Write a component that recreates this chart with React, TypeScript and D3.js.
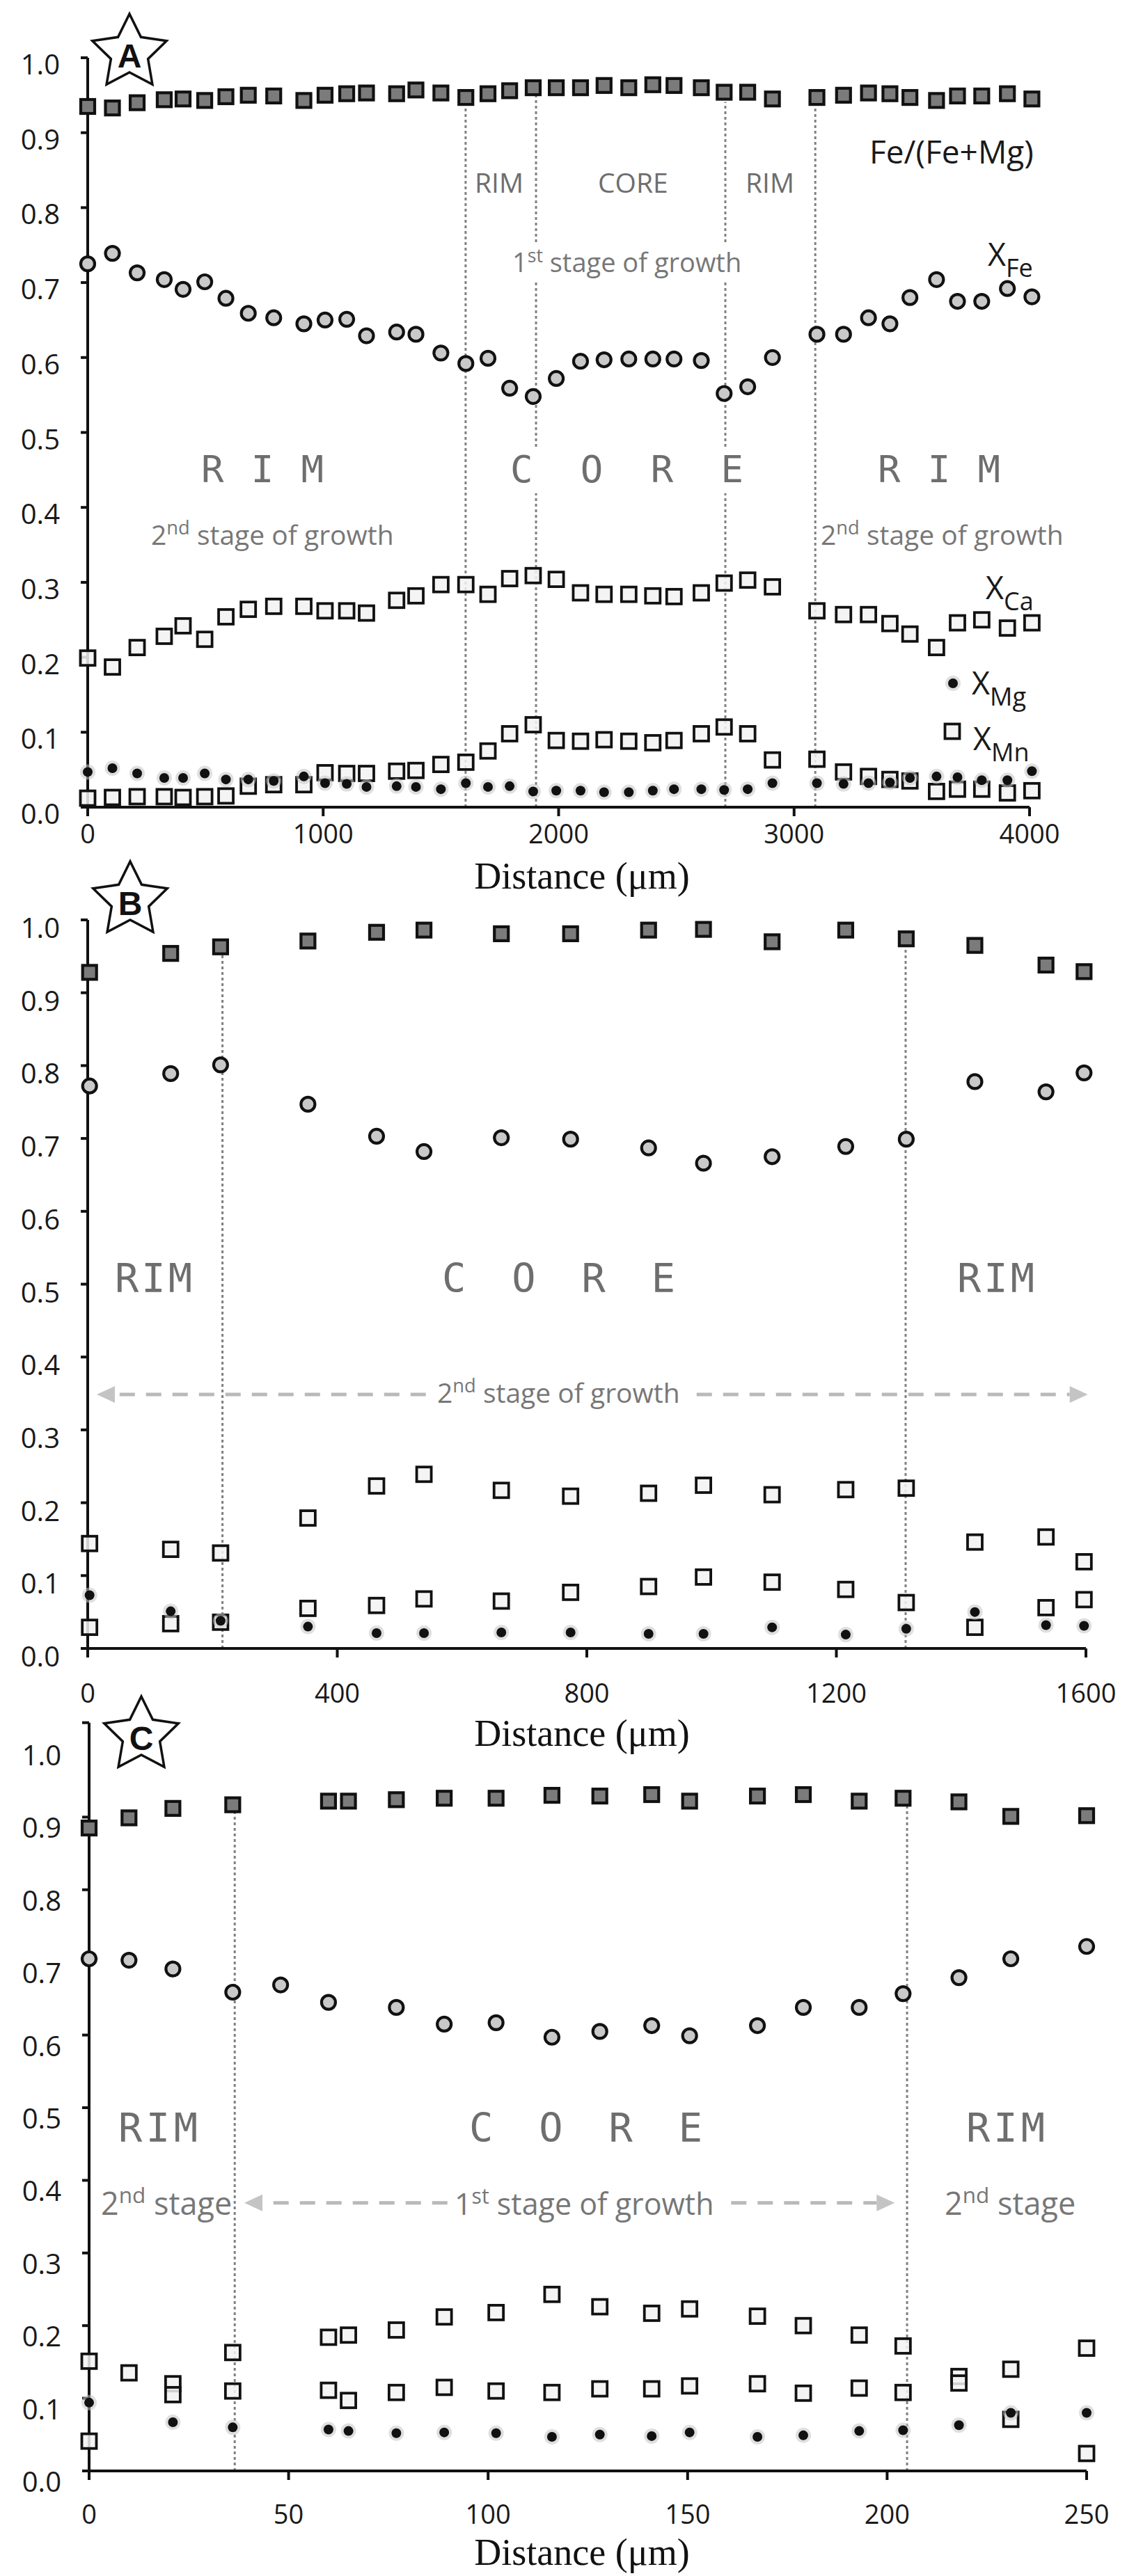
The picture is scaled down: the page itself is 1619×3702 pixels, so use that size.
import React, { useEffect } from "react";
import * as d3 from "d3";

// ---------------- DATA ----------------
// Panel A
const distanceA = [0, 105, 210, 325, 405, 497, 587, 682, 790, 918, 1008, 1100, 1184, 1312, 1394, 1500, 1606, 1700, 1792, 1892, 1990, 2093, 2193, 2298, 2400, 2490, 2606, 2703, 2803, 2908, 3097, 3210, 3316, 3407, 3492, 3605, 3694, 3797, 3906, 4010];
const feMgA = [0.935, 0.933, 0.94, 0.944, 0.945, 0.943, 0.948, 0.95, 0.949, 0.943, 0.95, 0.952, 0.953, 0.952, 0.957, 0.953, 0.947, 0.952, 0.956, 0.96, 0.96, 0.96, 0.963, 0.96, 0.964, 0.963, 0.96, 0.954, 0.954, 0.945, 0.947, 0.95, 0.953, 0.952, 0.947, 0.943, 0.949, 0.949, 0.952, 0.945];
const xFeA = [0.725, 0.739, 0.713, 0.704, 0.691, 0.701, 0.679, 0.659, 0.653, 0.645, 0.65, 0.651, 0.629, 0.634, 0.631, 0.606, 0.592, 0.599, 0.559, 0.548, 0.572, 0.595, 0.597, 0.598, 0.598, 0.598, 0.596, 0.552, 0.561, 0.6, 0.631, 0.631, 0.653, 0.645, 0.68, 0.704, 0.675, 0.675, 0.692, 0.681];
const xCaA = [0.199, 0.187, 0.213, 0.228, 0.242, 0.224, 0.254, 0.264, 0.268, 0.268, 0.262, 0.262, 0.259, 0.276, 0.282, 0.297, 0.297, 0.284, 0.305, 0.309, 0.304, 0.286, 0.284, 0.284, 0.282, 0.281, 0.286, 0.299, 0.303, 0.294, 0.262, 0.257, 0.257, 0.245, 0.231, 0.213, 0.246, 0.25, 0.239, 0.246];
const xMgA = [0.047, 0.052, 0.045, 0.039, 0.039, 0.045, 0.037, 0.037, 0.035, 0.041, 0.032, 0.031, 0.027, 0.028, 0.027, 0.024, 0.032, 0.027, 0.028, 0.021, 0.022, 0.022, 0.02, 0.02, 0.022, 0.024, 0.024, 0.023, 0.024, 0.032, 0.032, 0.031, 0.032, 0.033, 0.039, 0.041, 0.04, 0.036, 0.036, 0.048];
const xMnA = [0.012, 0.013, 0.014, 0.014, 0.013, 0.014, 0.015, 0.028, 0.03, 0.03, 0.046, 0.045, 0.045, 0.048, 0.049, 0.057, 0.06, 0.075, 0.098, 0.11, 0.089, 0.088, 0.09, 0.088, 0.086, 0.089, 0.098, 0.107, 0.098, 0.063, 0.064, 0.047, 0.041, 0.037, 0.035, 0.021, 0.024, 0.024, 0.019, 0.022];

// Panel B
const distanceB = [3, 133, 213, 353, 463, 539, 663, 774, 899, 987, 1097, 1215, 1312, 1422, 1536, 1597];
const feMgB = [0.928, 0.954, 0.963, 0.971, 0.983, 0.986, 0.981, 0.981, 0.986, 0.987, 0.97, 0.986, 0.974, 0.965, 0.938, 0.929];
const xFeB = [0.772, 0.789, 0.801, 0.747, 0.703, 0.682, 0.701, 0.699, 0.687, 0.666, 0.675, 0.689, 0.699, 0.778, 0.764, 0.79];
const xCaB = [0.144, 0.136, 0.131, 0.179, 0.223, 0.239, 0.217, 0.209, 0.213, 0.224, 0.211, 0.218, 0.22, 0.146, 0.153, 0.119];
const xMgB = [0.073, 0.051, 0.038, 0.03, 0.021, 0.021, 0.022, 0.022, 0.02, 0.02, 0.029, 0.019, 0.027, 0.05, 0.032, 0.031];
const xMnB = [0.029, 0.034, 0.036, 0.055, 0.059, 0.068, 0.065, 0.077, 0.085, 0.098, 0.091, 0.081, 0.063, 0.029, 0.056, 0.067];

// Panel C
const distanceC = [0, 10, 21, 36, 48, 60, 65, 77, 89, 102, 116, 128, 141, 150.5, 167.5, 179, 193, 204, 218, 231, 250];
const feMgC = [0.885, 0.899, 0.912, 0.917, null, 0.922, 0.922, 0.924, 0.926, 0.926, 0.93, 0.929, 0.931, 0.922, 0.929, 0.931, 0.922, 0.926, 0.921, 0.901, 0.902];
const xFeC = [0.705, 0.703, 0.691, 0.659, 0.669, 0.645, null, 0.638, 0.615, 0.617, 0.597, 0.605, 0.613, 0.599, 0.613, 0.638, 0.638, 0.657, 0.679, 0.705, 0.722];
const xCaC = [0.151, 0.135, 0.12, 0.163, null, 0.184, 0.187, 0.194, 0.212, 0.218, 0.243, 0.226, 0.217, 0.223, 0.213, 0.2, 0.187, 0.172, 0.13, 0.14, 0.169];
const xMnC = [0.041, null, 0.105, 0.11, null, 0.111, 0.097, 0.108, 0.115, 0.11, 0.108, 0.113, 0.113, 0.117, 0.12, 0.107, 0.114, 0.108, 0.121, 0.071, 0.024];
const xMgC = [0.094, null, 0.067, 0.06, null, 0.057, 0.055, 0.052, 0.053, 0.052, 0.047, 0.05, 0.048, 0.053, 0.047, 0.049, 0.055, 0.056, 0.063, 0.08, 0.08];

// Tick labels
const xTicksA = [0, 1000, 2000, 3000, 4000];
const xTicksB = [0, 400, 800, 1200, 1600];
const xTicksC = [0, 50, 100, 150, 200, 250];
const yTicks = [0, 0.1, 0.2, 0.3, 0.4, 0.5, 0.6, 0.7, 0.8, 0.9, 1.0];

// Zone boundaries (distance, segments in composition units)
const boundsA = [
  { d: 1605, segs: [[0, 0.938]] },
  { d: 1904, segs: [[0, 0.419], [0.481, 0.703], [0.754, 0.952]] },
  { d: 2708, segs: [[0, 0.419], [0.481, 0.703], [0.754, 0.941]] },
  { d: 3090, segs: [[0, 0.934]] },
];
const boundsB = [
  { d: 216, segs: [[0, 0.953]] },
  { d: 1311, segs: [[0, 0.963]] },
];
const boundsC = [
  { d: 36.5, segs: [[0, 0.907]] },
  { d: 205, segs: [[0, 0.917]] },
];

// ---------------- STYLE / LAYOUT ----------------
const SANS = "'Open Sans', 'Noto Sans', sans-serif";
const SERIF = "'Liberation Serif', 'DejaVu Serif', serif";
const MONO = "'DejaVu Sans Mono', 'Liberation Mono', monospace";
const GRAY_TXT = "#6e6e6e";

const panels = [
  {
    id: "A",
    dist: distanceA, feMg: feMgA, xFe: xFeA, xCa: xCaA, xMg: xMgA, xMn: xMnA,
    xDomain: [0, 4000], xRange: [126, 1479], y0: 1160, y1: 83, yTop: 1.0,
    xTicks: xTicksA, yLabelDy: 24, xLabelY: 1212, titleY: 1277,
    star: { cx: 186, cy: 76 }, bounds: boundsA, arrows: [],
    big: [
      { t: "RIM", x: 289, w: 176, y: 693, s: 54 },
      { t: "CORE", x: 733, w: 335, y: 693, s: 54 },
      { t: "RIM", x: 1261, w: 176, y: 693, s: 54 },
    ],
  },
  {
    id: "B",
    dist: distanceB, feMg: feMgB, xFe: xFeB, xCa: xCaB, xMg: xMgB, xMn: xMnB,
    xDomain: [0, 1600], xRange: [126, 1560], y0: 2369, y1: 1322, yTop: 1.0,
    xTicks: xTicksB, yLabelDy: 26, xLabelY: 2447, titleY: 2509,
    star: { cx: 187, cy: 1294 }, bounds: boundsB,
    arrows: [
      { v: 0.3486, from: 542, to: 14.5 },
      { v: 0.3486, from: 976, to: 1603 },
    ],
    big: [
      { t: "RIM", x: 165, w: 111, y: 1857, s: 57 },
      { t: "CORE", x: 635, w: 335, y: 1857, s: 57 },
      { t: "RIM", x: 1375, w: 111, y: 1857, s: 57 },
    ],
  },
  {
    id: "C",
    dist: distanceC, feMg: feMgC, xFe: xFeC, xCa: xCaC, xMg: xMgC, xMn: xMnC,
    xDomain: [0, 250], xRange: [128, 1561], y0: 3551, y1: 2507, yTop: 1.03,
    xTicks: xTicksC, yLabelDy: 30, xLabelY: 3627, titleY: 3686,
    star: { cx: 203, cy: 2494 }, bounds: boundsC,
    arrows: [
      { v: 0.369, from: 89.8, to: 38.9 },
      { v: 0.369, from: 160.9, to: 201.9 },
    ],
    big: [
      { t: "RIM", x: 170, w: 114, y: 3078, s: 57 },
      { t: "CORE", x: 674, w: 335, y: 3078, s: 57 },
      { t: "RIM", x: 1388, w: 113, y: 3078, s: 57 },
    ],
  },
];

// ---------------- COMPONENTS ----------------
function Star({ cx, cy, letter }: { cx: number; cy: number; letter: string }) {
  const r = 56;
  const pts = d3.range(10).map((i) => {
    const a = -Math.PI / 2 + (i * Math.PI) / 5;
    const rr = i % 2 === 0 ? r : r * 0.5;
    return [cx + rr * Math.cos(a), cy + rr * Math.sin(a)];
  });
  return (
    <g>
      <polygon points={pts.map((p) => p.join(",")).join(" ")} fill="#fff" stroke="#111" strokeWidth={3.5} />
      <text x={cx} y={cy + 21} textAnchor="middle" fontFamily="'Liberation Sans', Arial, sans-serif" fontWeight="bold" fontSize={48} fill="#111">
        {letter}
      </text>
    </g>
  );
}

function SqFilled({ x, y }: { x: number; y: number }) {
  const s = 20;
  return <rect x={x - s / 2} y={y - s / 2} width={s} height={s} fill="#7b7b7b" stroke="#111" strokeWidth={4.2} />;
}
function SqOpen({ x, y }: { x: number; y: number }) {
  const s = 21;
  return <rect x={x - s / 2} y={y - s / 2} width={s} height={s} fill="#f2f2f2" fillOpacity={0.85} stroke="#111" strokeWidth={3.8} />;
}
function Circ({ x, y }: { x: number; y: number }) {
  return <circle cx={x} cy={y} r={10} fill="#c9c9c9" stroke="#111" strokeWidth={4.2} />;
}
function Dot({ x, y }: { x: number; y: number }) {
  return (
    <g>
      <circle cx={x} cy={y} r={11} fill="#c4c4c4" opacity={0.55} />
      <circle cx={x} cy={y} r={7} fill="#111" />
    </g>
  );
}

function Stage({ x, y, size, n, sup, rest }: { x: number; y: number; size: number; n: string; sup: string; rest: string }) {
  return (
    <text x={x} y={y} fontFamily={SANS} fontSize={size} fill="#777">
      {n}
      <tspan fontSize={size * 0.7} dy={-size * 0.38}>{sup}</tspan>
      <tspan dy={size * 0.38}>{rest}</tspan>
    </text>
  );
}

function XLab({ x, y, sub, size = 45 }: { x: number; y: number; sub: string; size?: number }) {
  return (
    <text x={x} y={y} fontFamily={SANS} fontSize={size} fill="#1a1a1a">
      X<tspan fontSize={size * 0.8} dy={16}>{sub}</tspan>
    </text>
  );
}

function Panel({ p }: { p: any }) {
  const x = d3.scaleLinear().domain(p.xDomain).range(p.xRange);
  const y = d3.scaleLinear().domain([0, 1]).range([p.y0, p.y1]);
  const pts = (vals: (number | null)[]) =>
    p.dist.map((d: number, i: number) => ({ d, v: vals[i] })).filter((o: any) => o.v !== null && o.v !== undefined);
  const fmt = d3.format(".1f");
  const ax = x(0);
  const tickMarks = p.id === "C" ? yTicks.filter((t) => t < 0.95).concat([p.yTop]) : yTicks;

  return (
    <g>
      {/* zone boundaries */}
      {p.bounds.map((b: any, i: number) =>
        b.segs.map((s: number[], j: number) => (
          <line key={`b${i}-${j}`} x1={x(b.d)} x2={x(b.d)} y1={y(s[0])} y2={y(s[1])} stroke="#808080" strokeWidth={3} strokeDasharray="4 4" />
        ))
      )}
      {/* dashed arrows */}
      {p.arrows.map((a: any, i: number) => {
        const yy = y(a.v);
        const x1 = x(a.from);
        const x2 = x(a.to);
        const dir = Math.sign(x2 - x1);
        const L = 26;
        return (
          <g key={`a${i}`}>
            <line x1={x1} x2={x2 - dir * L} y1={yy} y2={yy} stroke="#b9b9b9" strokeWidth={5} strokeDasharray="22 16" />
            <polygon points={`${x2},${yy} ${x2 - dir * L},${yy - 12} ${x2 - dir * L},${yy + 12}`} fill="#c4c4c4" />
          </g>
        );
      })}

      {/* big zone labels */}
      {p.big.map((b: any, i: number) => (
        <text key={`z${i}`} x={b.x} y={b.y} fontFamily={MONO} fontSize={b.s} fill={GRAY_TXT} textLength={b.w} lengthAdjust="spacing">
          {b.t}
        </text>
      ))}

      {/* axes */}
      <line x1={ax} x2={ax} y1={y(p.yTop)} y2={y(0) + 8} stroke="#111" strokeWidth={4} />
      <line x1={ax - 10} x2={x(p.xDomain[1])} y1={y(0)} y2={y(0)} stroke="#111" strokeWidth={4} />
      {tickMarks.map((t: number) => (
        <line key={`yt${t}`} x1={ax - 10} x2={ax} y1={y(t)} y2={y(t)} stroke="#111" strokeWidth={4} />
      ))}
      {yTicks.map((t) => (
        <text key={`yl${t}`} x={ax - 40} y={y(t) + p.yLabelDy} textAnchor="end" fontFamily={SANS} fontSize={40} fill="#1a1a1a">
          {fmt(t)}
        </text>
      ))}
      {p.xTicks.map((t: number) => (
        <g key={`xt${t}`}>
          <line x1={x(t)} x2={x(t)} y1={y(0)} y2={y(0) + 13} stroke="#111" strokeWidth={4} />
          <text x={x(t)} y={p.xLabelY} textAnchor="middle" fontFamily={SANS} fontSize={38} fill="#1a1a1a">
            {t}
          </text>
        </g>
      ))}
      <text x={836} y={p.titleY} textAnchor="middle" fontFamily={SERIF} fontSize={54} fill="#111">
        Distance (μm)
      </text>

      {/* markers */}
      {pts(p.xCa).map((o: any, i: number) => <SqOpen key={`ca${i}`} x={x(o.d)} y={y(o.v)} />)}
      {pts(p.xMn).map((o: any, i: number) => <SqOpen key={`mn${i}`} x={x(o.d)} y={y(o.v)} />)}
      {pts(p.xMg).map((o: any, i: number) => <Dot key={`mg${i}`} x={x(o.d)} y={y(o.v)} />)}
      {pts(p.xFe).map((o: any, i: number) => <Circ key={`fe${i}`} x={x(o.d)} y={y(o.v)} />)}
      {pts(p.feMg).map((o: any, i: number) => <SqFilled key={`fm${i}`} x={x(o.d)} y={y(o.v)} />)}

      <Star cx={p.star.cx} cy={p.star.cy} letter={p.id} />
    </g>
  );
}

export default function App() {
  useEffect(() => {
    document.body.style.margin = "0";
  }, []);
  return (
    <svg width={1619} height={3702} style={{ display: "block", position: "absolute", left: 0, top: 0 }} xmlns="http://www.w3.org/2000/svg">
      <rect x={0} y={0} width={1619} height={3702} fill="#fff" />
      {panels.map((p) => (
        <Panel key={p.id} p={p} />
      ))}

      {/* Panel A annotations */}
      <text x={1249} y={235} fontFamily={SANS} fontSize={46} fill="#1a1a1a">Fe/(Fe+Mg)</text>
      <text x={682} y={277} fontFamily={SANS} fontSize={39} fill={GRAY_TXT}>RIM</text>
      <text x={859} y={277} fontFamily={SANS} fontSize={39} fill={GRAY_TXT}>CORE</text>
      <text x={1071} y={277} fontFamily={SANS} fontSize={39} fill={GRAY_TXT}>RIM</text>
      <Stage x={736} y={391} size={38} n="1" sup="st" rest=" stage of growth" />
      <Stage x={217} y={783} size={39} n="2" sup="nd" rest=" stage of growth" />
      <Stage x={1179} y={783} size={39} n="2" sup="nd" rest=" stage of growth" />
      <XLab x={1419} y={382} sub="Fe" />
      <XLab x={1416} y={861} sub="Ca" />
      <Dot x={1369} y={982} />
      <XLab x={1396} y={998} sub="Mg" />
      <SqOpen x={1368} y={1051} />
      <XLab x={1398} y={1078} sub="Mn" />

      {/* Panel B annotations */}
      <Stage x={628} y={2016} size={39} n="2" sup="nd" rest=" stage of growth" />

      {/* Panel C annotations */}
      <Stage x={145} y={3183} size={45} n="2" sup="nd" rest=" stage" />
      <Stage x={653} y={3183} size={43} n="1" sup="st" rest=" stage of growth" />
      <Stage x={1357} y={3183} size={45} n="2" sup="nd" rest=" stage" />
    </svg>
  );
}
